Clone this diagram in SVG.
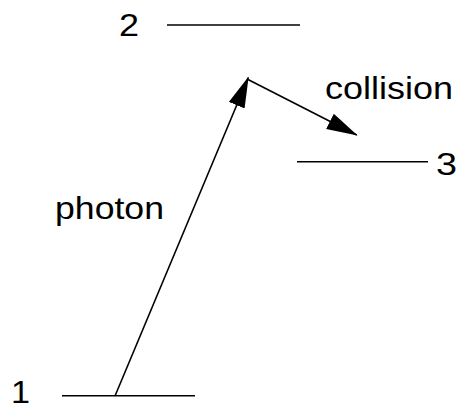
<svg xmlns="http://www.w3.org/2000/svg" width="462" height="410" viewBox="0 0 462 410">
<style>
.lvl{stroke:#000;stroke-width:1.6;fill:none}
.arr{stroke:#000;stroke-width:1.6;fill:none;marker-end:url(#ah)}
text{font-family:"Liberation Sans",Arial,sans-serif;font-size:32px;fill:#000}
</style>
<defs>
<marker id="ah" viewBox="0 0 31 17" markerWidth="31" markerHeight="17" refX="30" refY="8.5" orient="auto" markerUnits="userSpaceOnUse">
<path d="M0,0 L31,8.5 L0,17 Z" fill="#000"/>
</marker>
</defs>
<rect width="462" height="410" fill="#fff"/>
<g id="level1">
<line class="lvl" x1="62" y1="395.7" x2="195" y2="395.7"/>
<text x="11" y="403" textLength="19" lengthAdjust="spacingAndGlyphs">1</text>
</g>
<g id="level2">
<line class="lvl" x1="167" y1="25" x2="300" y2="25"/>
<text x="119" y="36" textLength="20" lengthAdjust="spacingAndGlyphs">2</text>
</g>
<g id="level3">
<line class="lvl" x1="297" y1="161.7" x2="428" y2="161.7"/>
<text x="436" y="175" textLength="21" lengthAdjust="spacingAndGlyphs">3</text>
</g>
<g id="connectors">
<line class="arr" x1="115" y1="396" x2="248.3" y2="77.5"/>
<line class="arr" x1="248" y1="79.5" x2="356.7" y2="135"/>
<text x="55" y="219" textLength="109" lengthAdjust="spacingAndGlyphs">photon</text>
<text x="325" y="99" textLength="128" lengthAdjust="spacingAndGlyphs">collision</text>
</g>
</svg>
